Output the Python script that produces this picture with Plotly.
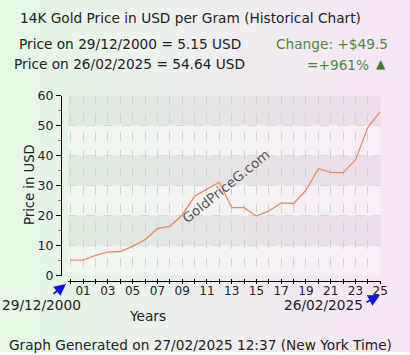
import plotly.graph_objects as go

W, H = 410, 355

years = list(range(2000, 2026))
prices = [5.15, 5.1, 6.7, 7.8, 8.0, 9.7, 11.9, 15.6, 16.4, 20.1, 26.4, 28.7, 31.1,
          22.6, 22.6, 19.8, 21.5, 24.2, 24.0, 28.4, 35.6, 34.4, 34.3, 38.5, 49.4, 54.64]
tick_vals = years
tick_text = [("%02d" % (y % 100)) if y % 2 == 1 else "" for y in years]
y_ticks = [0, 10, 20, 30, 40, 50, 60]

title_text = "14K Gold Price in USD per Gram (Historical Chart)"
start_text = "Price on 29/12/2000 = 5.15 USD"
end_text = "Price on 26/02/2025 = 54.64 USD"
change_text = "Change: +$49.5"
pct_text = "=+961%"
start_date = "29/12/2000"
end_date = "26/02/2025"
footer = "Graph Generated on 27/02/2025 12:37 (New York Time)"
watermark = "GoldPriceG.com"
y_title = "Price in USD"

FONT = "DejaVu Sans"
TXT = "#222222"
GREEN = "#4f8a3c"
FS = 13.7


def px(x):
    return x / W


def py(y):
    return 1 - y / H


def lerp(a, b, t):
    return int(round(a + (b - a) * t))


shapes = []
# background gradient (green -> pink)
N = 82
c0 = (228, 248, 228)
c1 = (248, 228, 247)
for i in range(N):
    t = i / (N - 1)
    col = "rgb(%d,%d,%d)" % tuple(lerp(c0[k], c1[k], t) for k in range(3))
    shapes.append(dict(type="rect", xref="paper", yref="paper", layer="below",
                       x0=i / N, x1=(i + 1) / N + 0.002, y0=0, y1=1,
                       fillcolor=col, line=dict(width=0)))
# bottom white strip
shapes.append(dict(type="rect", xref="paper", yref="paper", layer="below",
                   x0=0, x1=1, y0=0, y1=py(352), fillcolor="white", line=dict(width=0)))
# alternating bands in plot area
for lo in range(0, 60, 10):
    dark = (lo // 10) % 2 == 1
    shapes.append(dict(type="rect", xref="x domain", yref="y", layer="below",
                       x0=0, x1=1, y0=lo, y1=lo + 10,
                       fillcolor="rgba(0,0,0,0.04)" if dark else "rgba(255,255,255,0.3)",
                       line=dict(width=0)))

fig = go.Figure()
fig.add_trace(go.Scatter(x=years, y=prices, mode="lines",
                         line=dict(color="#ec8a68", width=1.3),
                         hoverinfo="skip", showlegend=False))
# dummy trace to activate xaxis2
fig.add_trace(go.Scatter(x=[2000], y=[None], xaxis="x2", yaxis="y",
                         showlegend=False, hoverinfo="skip"))

plot_x0, plot_x1 = 68, 380.5
plot_top, plot_bot = 95.5, 275.5

fig.update_layout(
    width=W, height=H, autosize=False,
    margin=dict(l=0, r=0, t=0, b=0, pad=0),
    paper_bgcolor="rgba(0,0,0,0)", plot_bgcolor="rgba(0,0,0,0)",
    shapes=shapes,
    font=dict(family=FONT, color=TXT, size=12),
    xaxis=dict(domain=[px(plot_x0), px(plot_x1)], range=[1999.78, 2025.02],
               anchor="free", position=py(281), automargin=False,
               tickmode="array", tickvals=tick_vals, ticktext=tick_text,
               ticks="outside", ticklen=2, tickcolor="black", tickwidth=1,
               ticklabelstandoff=-3,
               showline=True, linecolor="black", linewidth=1,
               showgrid=True, gridcolor="#d2d2d2", griddash="dash", gridwidth=1,
               zeroline=False, tickfont=dict(size=12, color=TXT, family=FONT)),
    xaxis2=dict(domain=[px(plot_x0), px(plot_x1)], range=[1999.78, 2025.02],
                overlaying="x", anchor="free", position=py(281), automargin=False,
                tickmode="array", tickvals=tick_vals, ticktext=[""] * len(tick_vals),
                ticks="inside", ticklen=2, tickcolor="black", showline=False,
                showgrid=False, zeroline=False, showticklabels=False),
    yaxis=dict(domain=[py(plot_bot), py(plot_top)], range=[0, 60],
               anchor="free", position=px(61), automargin=False,
               tickmode="array", tickvals=y_ticks,
               ticks="outside", ticklen=5, tickcolor="black", tickwidth=1,
               minor=dict(ticks="outside", ticklen=3, tickcolor="#e05050", dtick=5,
                          tick0=5, showgrid=False),
               showline=True, linecolor="black", linewidth=1,
               showgrid=True, gridcolor="#d8d8d8", griddash="dash",
               zeroline=False, tickfont=dict(size=12.5, color=TXT, family=FONT)),
)

ann = []


def text(t, x, y, size=FS, color=TXT, xanchor="center", angle=0):
    ann.append(dict(text=t, x=px(x), y=py(y), xref="paper", yref="paper",
                    showarrow=False, xanchor=xanchor, yanchor="middle",
                    font=dict(family=FONT, size=size, color=color), textangle=angle))


text(title_text, 190, 18)
text(start_text, 130, 44)
text(end_text, 129, 64)
text(change_text, 390, 44, color=GREEN, xanchor="right")
text(pct_text, 371, 65, color=GREEN, xanchor="right")
text("▲", 381, 64, size=12, color="#3d7a2a")
text(start_date, 41, 305)
text(end_date, 323, 305)
text("Years", 147, 316)
text(footer, 200, 345)
text(y_title, 29, 184, size=13.2, angle=-90)
ann.append(dict(text=watermark, x=px(226), y=py(186), xref="paper", yref="paper",
                showarrow=False, textangle=-39,
                font=dict(family=FONT, size=13.5, color="rgba(55,55,55,0.85)")))
# blue arrows
for hx, hy, ax, ay in [(66, 284, -14, 11), (380, 295, -15, 8)]:
    ann.append(dict(text="", x=px(hx), y=py(hy), xref="paper", yref="paper",
                    showarrow=True, ax=ax, ay=ay, arrowhead=2, arrowsize=1.3,
                    arrowwidth=1.8, arrowcolor="#1010ee"))
fig.update_layout(annotations=ann)

fig.write_html("out.html")
